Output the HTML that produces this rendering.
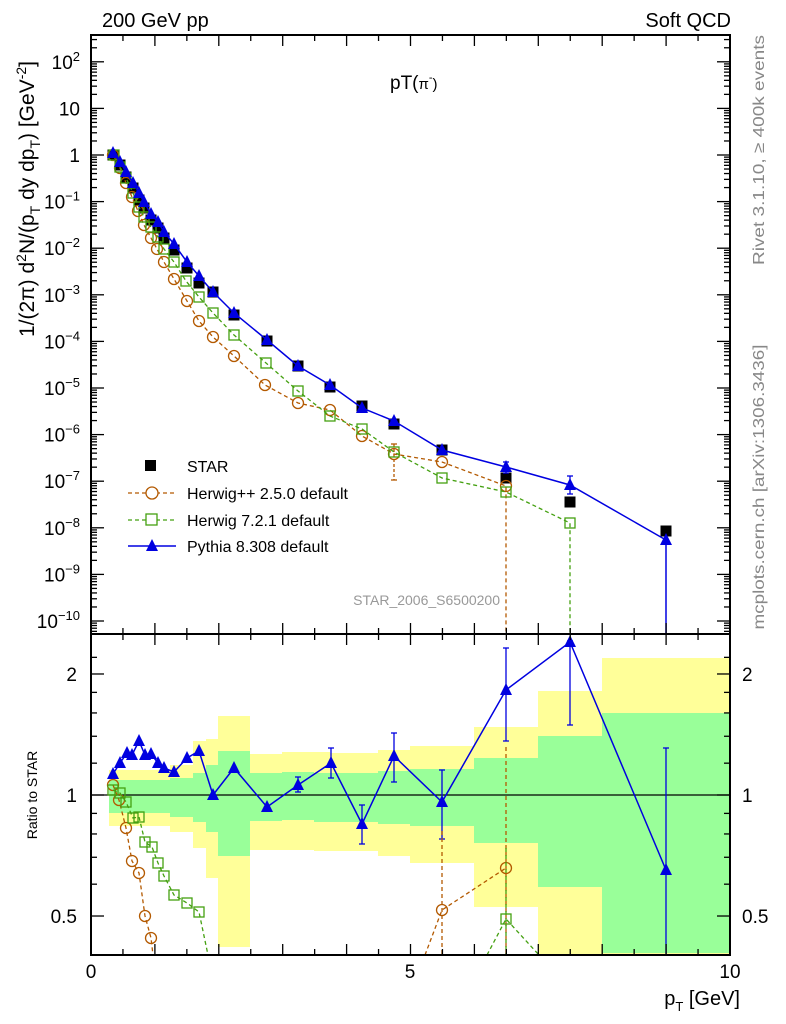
<!DOCTYPE html>
<html><head><meta charset="utf-8"><style>
html,body{margin:0;padding:0;background:#fff;}
svg{display:block;font-family:"Liberation Sans",sans-serif;}
</style></head><body>
<svg id="s" width="786" height="1024" viewBox="0 0 786 1024" xmlns="http://www.w3.org/2000/svg">
<rect width="786" height="1024" fill="#fff"/>
<g id="bands"></g>
<g id="plot"></g>
<g id="axes"></g>
<text x="102" y="27" font-size="20">200 GeV pp</text>
<text x="731" y="27" font-size="20" text-anchor="end">Soft QCD</text>
<text x="390" y="89" font-size="19">pT(<tspan font-size="15">π</tspan><tspan font-size="11" dy="-8">-</tspan><tspan dy="8" font-size="15">)</tspan></text>
<text x="500" y="605" font-size="14" fill="#999" text-anchor="end">STAR_2006_S6500200</text>
<text transform="translate(764,150) rotate(-90)" font-size="16" fill="#888" text-anchor="middle" textLength="230" lengthAdjust="spacingAndGlyphs">Rivet 3.1.10, ≥ 400k events</text>
<text transform="translate(764,487) rotate(-90)" font-size="16" fill="#888" text-anchor="middle" textLength="285" lengthAdjust="spacingAndGlyphs">mcplots.cern.ch [arXiv:1306.3436]</text>
<text transform="translate(34,199) rotate(-90)" font-size="21" text-anchor="middle">1/(2π) d<tspan font-size="14" dy="-8">2</tspan><tspan dy="8">N/(p</tspan><tspan font-size="14" dy="6">T</tspan><tspan dy="-6"> dy dp</tspan><tspan font-size="14" dy="6">T</tspan><tspan dy="-6">) [GeV</tspan><tspan font-size="14" dy="-8">-2</tspan><tspan dy="8">]</tspan></text>
<text transform="translate(37,795) rotate(-90)" font-size="14" text-anchor="middle">Ratio to STAR</text>
<text x="740" y="1005" font-size="20" text-anchor="end">p<tspan font-size="13" dy="6">T</tspan><tspan dy="-6"> [GeV]</tspan></text>
<g font-size="19">
<text x="91" y="978" text-anchor="middle">0</text>
<text x="410" y="978" text-anchor="middle">5</text>
<text x="730" y="978" text-anchor="middle">10</text>
<text x="77" y="681" text-anchor="end">2</text>
<text x="77" y="802" text-anchor="end">1</text>
<text x="77" y="923" text-anchor="end">0.5</text>
<text x="742" y="681">2</text>
<text x="742" y="802">1</text>
<text x="742" y="923">0.5</text>
</g>
<g id="ylab" font-size="19"></g>
<g id="legend" font-size="16">
<rect x="145" y="460" width="11" height="11" fill="#000"/>
<text x="187" y="472">STAR</text>
<line x1="128" y1="493" x2="176" y2="493" stroke="#b35900" stroke-width="1.3" stroke-dasharray="4,3"/>
<circle cx="152" cy="493" r="6" fill="#fff" stroke="#b35900" stroke-width="1.3"/>
<text x="187" y="499">Herwig++ 2.5.0 default</text>
<line x1="128" y1="520" x2="176" y2="520" stroke="#44a010" stroke-width="1.3" stroke-dasharray="4,3"/>
<rect x="146" y="514" width="11" height="11" fill="#fff" stroke="#44a010" stroke-width="1.3"/>
<text x="187" y="526">Herwig 7.2.1 default</text>
<line x1="128" y1="546" x2="176" y2="546" stroke="#0000e0" stroke-width="1.5"/>
<polygon points="152,539 146,551 158,551" fill="#0000e0"/>
<text x="187" y="552">Pythia 8.308 default</text>
</g>
</svg>
<script>
const NS="http://www.w3.org/2000/svg";
function el(p,t,a){const e=document.createElementNS(NS,t);for(const k in a)e.setAttribute(k,a[k]);document.getElementById(p).appendChild(e);return e;}
const bands=[[109,170,770,826,780,813],[170,193,765,832,778,817],[193,206,741,848,773,822],[206,218,739,878,765,832],[218,250,716,947,751,856],[250,282,754,850,773,821],[282,314,752,850,772,820],[314,330,752,851,773,822],[330,378,753,851,773,822],[378,410,750,856,771,824],[410,474,746,863,769,826],[474,538,727,907,758,843],[538,602,691,955,736,887],[602,730,658,955,713,953]];
bands.forEach(b=>{el("bands","rect",{x:b[0],y:b[2],width:b[1]-b[0],height:b[3]-b[2],fill:"#ffff99"});el("bands","rect",{x:b[0],y:b[4],width:b[1]-b[0],height:b[5]-b[4],fill:"#99ff99"});});
el("bands","line",{x1:91,y1:795,x2:730,y2:795,stroke:"#000","stroke-width":1.3});
const star=[[113,155],[120,165],[126,177],[133,188],[139,200],[144,208],[151,220],[158,228],[164,238],[174,250],[187,268],[199,283],[213,292],[234,315],[267,341],[298,366],[330,387],[362,406],[394,424],[442,450],[506,478],[570,502],[666,531]];
const pyt=[[113,153],[120,162],[126,172],[133,183],[139,193],[144,202],[151,214],[158,222],[164,232],[174,244],[187,262],[199,276],[213,292],[234,313],[267,340],[298,366],[330,385],[362,408],[394,421],[442,450],[506,467],[570,485],[666,540],[666,634]];
const hpp=[[113,155],[120,168],[126,183],[132,197],[138,211],[144,225],[151,238],[157,249],[164,262],[174,279],[187,301],[199,321],[213,337],[234,356],[265,385],[298,403],[330,410],[362,436],[394,454],[442,462],[506,486],[506,634]];
const h7=[[114,155],[120,167],[126,178],[133,193],[139,207],[144,217],[151,227],[158,237],[164,249],[174,262],[186,281],[199,297],[213,313],[234,335],[266,363],[298,391],[330,416],[362,429],[394,452],[442,478],[506,492],[570,523],[570,634]];
function pl(g,pts,c,dash,w){el(g,"polyline",{points:pts.map(p=>p.join(",")).join(" "),fill:"none",stroke:c,"stroke-width":w||1.3,"stroke-dasharray":dash||"none"});}
function circ(g,p,c){el(g,"circle",{cx:p[0],cy:p[1],r:5.5,fill:"none",stroke:c,"stroke-width":1.3});}
function sq(g,p,c){el(g,"rect",{x:p[0]-5,y:p[1]-5,width:10,height:10,fill:"none",stroke:c,"stroke-width":1.3});}
function tri(g,p,c){el(g,"polygon",{points:`${p[0]},${p[1]-7} ${p[0]-6},${p[1]+5} ${p[0]+6},${p[1]+5}`,fill:c});}
function eb(g,x,y1,y2,c,d){el(g,"line",{x1:x,y1:y1,x2:x,y2:y2,stroke:c,"stroke-width":1.3,"stroke-dasharray":d||"none"});el(g,"line",{x1:x-3,y1:y1,x2:x+3,y2:y1,stroke:c,"stroke-width":1.3});el(g,"line",{x1:x-3,y1:y2,x2:x+3,y2:y2,stroke:c,"stroke-width":1.3});}
star.forEach(p=>el("plot","rect",{x:p[0]-5.5,y:p[1]-5.5,width:11,height:11,fill:"#000"}));
pl("plot",hpp,"#b35900","4,3");hpp.slice(0,-1).forEach(p=>circ("plot",p,"#b35900"));
eb("plot",394,444,480,"#b35900","3,2");
pl("plot",h7,"#44a010","4,3");h7.slice(0,-1).forEach(p=>sq("plot",p,"#44a010"));
pl("plot",pyt,"#0000e0",null,1.5);pyt.slice(0,-1).forEach(p=>tri("plot",p,"#0000e0"));
eb("plot",506,462,473,"#0000e0");eb("plot",570,476,494,"#0000e0");
const rp=[[113,774],[120,763],[127,753],[132,755],[139,741],[145,755],[151,754],[158,763],[164,768],[174,772],[187,758],[199,751],[213,795],[234,768],[267,807],[298,785],[331,763],[362,824],[394,756],[442,802],[506,690],[570,642],[666,870]];
pl("plot",rp,"#0000e0",null,1.5);rp.forEach(p=>tri("plot",p,"#0000e0"));
[[298,777,792],[331,748,778],[362,805,844],[394,733,782],[442,770,839],[506,648,741],[570,641,725],[666,748,955]].forEach(e=>eb("plot",e[0],e[1],e[2],"#0000e0"));
const rh=[[113,785],[119,800],[126,828],[132,861],[139,873],[145,916],[151,938],[153,955]];
pl("plot",rh,"#b35900","4,3");rh.slice(0,-1).forEach(p=>circ("plot",p,"#b35900"));
pl("plot",[[425,955],[442,910],[506,868]],"#b35900","4,3");circ("plot",[442,910],"#b35900");circ("plot",[506,868],"#b35900");
el("plot","line",{x1:442,y1:831,x2:442,y2:955,stroke:"#b35900","stroke-width":1.3,"stroke-dasharray":"4,3"});
el("plot","line",{x1:506,y1:747,x2:506,y2:955,stroke:"#b35900","stroke-width":1.3,"stroke-dasharray":"4,3"});
const rg=[[113,790],[120,793],[126,802],[133,818],[139,817],[145,842],[152,847],[158,863],[164,876],[174,895],[187,903],[199,912],[208,955]];
pl("plot",rg,"#44a010","4,3");rg.slice(0,-1).forEach(p=>sq("plot",p,"#44a010"));
pl("plot",[[487,955],[506,919],[539,955]],"#44a010","4,3");sq("plot",[506,919],"#44a010");
el("plot","line",{x1:506,y1:848,x2:506,y2:955,stroke:"#44a010","stroke-width":1.3,"stroke-dasharray":"4,3"});
el("axes","rect",{x:91,y:35,width:639,height:599,fill:"none",stroke:"#000","stroke-width":2});
el("axes","rect",{x:91,y:634,width:639,height:321,fill:"none",stroke:"#000","stroke-width":2});
function ln(x1,y1,x2,y2){el("axes","line",{x1,y1,x2,y2,stroke:"#000","stroke-width":1.3});}
for(let i=0;i<=20;i++){const x=91+i*31.95;const L=i%2==0?11:6;
 ln(x,35,x,35+L);ln(x,634,x,634-L);ln(x,634,x,634+L);ln(x,955,x,955-L);}
const y0=155,dec=46.6;
for(let d=-11;d<=2;d++){for(let k=1;k<10;k++){const y=y0-dec*(d+Math.log10(k));if(y<36||y>633)continue;const L=k==1?13:6;ln(91,y,91+L,y);ln(730,y,730-L,y);}}
for(let d=-10;d<=2;d++){const y=y0-dec*d+7;let t;if(d==1)t="10";else if(d==0)t="1";else t="10<tspan font-size='13' dy='-8'>"+(d<0?"−"+(-d):d)+"</tspan>";
 const e=el("ylab","text",{x:80,y:y,"text-anchor":"end"});e.innerHTML=t;}
for(const r of [0.4,0.5,0.6,0.7,0.8,0.9,1,1.2,1.4,1.6,1.8,2,2.2]){const y=795-402*Math.log10(r);if(y<635||y>954)continue;const L=(r==0.5||r==1||r==2)?13:6;ln(91,y,91+L,y);ln(730,y,730-L,y);}
</script>
</body></html>
